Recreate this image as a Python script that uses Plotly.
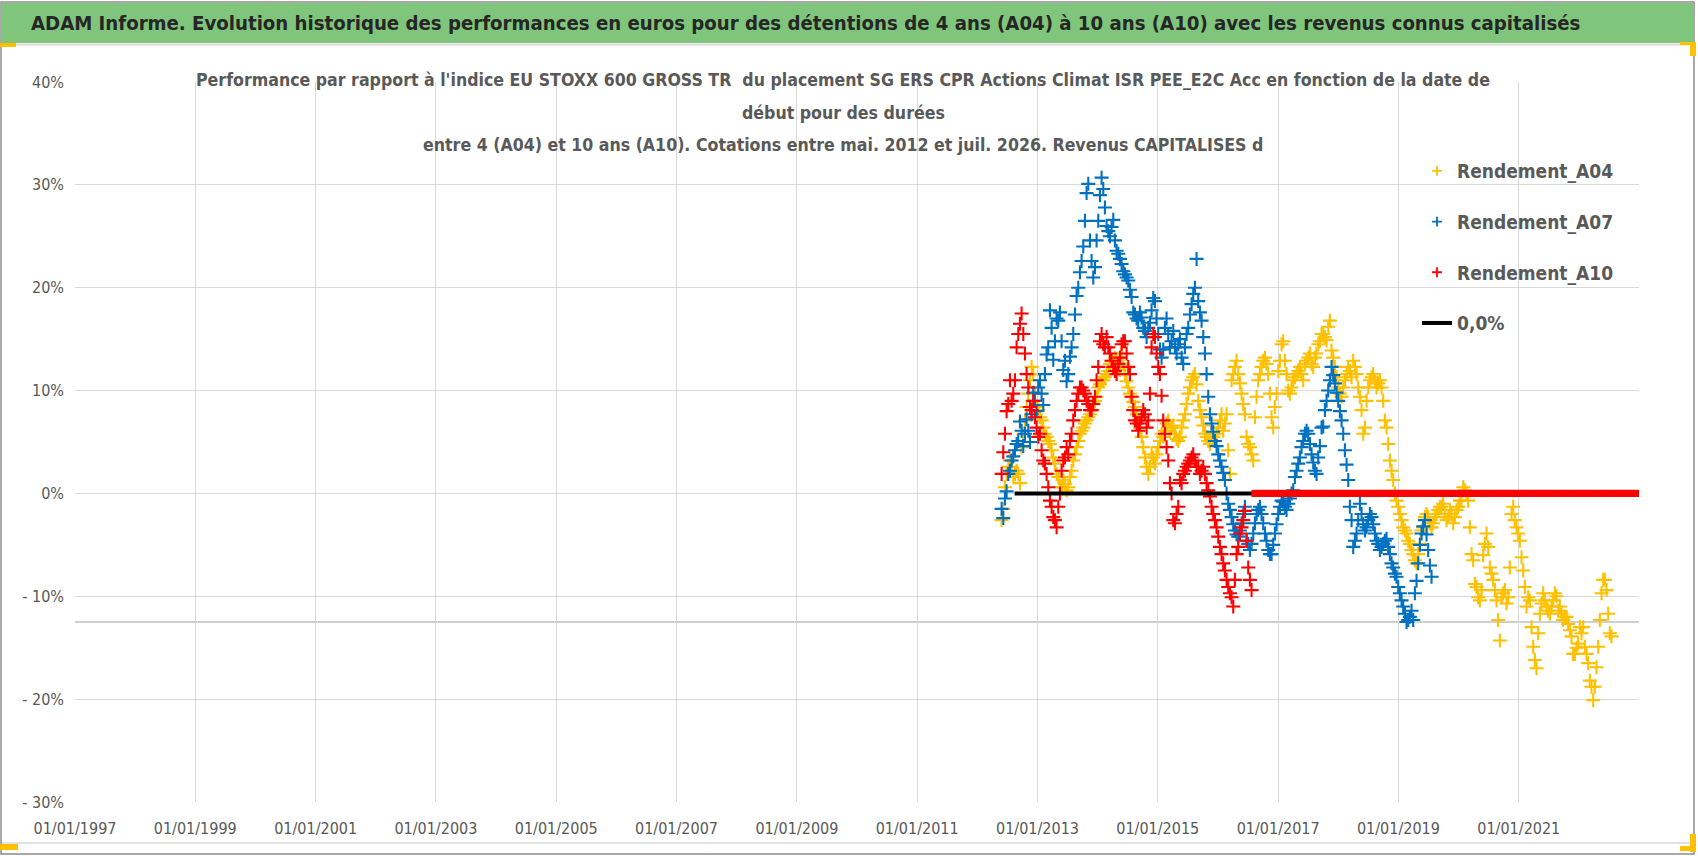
import pandas as pd
import plotly.graph_objects as go

# ---------------- data (values in %) ----------------
# readings taken on a regular grid of dates (main points) and half-way
# between consecutive grid dates (half points)
grid_start = "2012-05-28"
grid_end = "2022-12-27"
grid_len = 192

a04 = [-2.6, 0.6, 2.6, 2.6, 1.9, 1.9, 4.5, 7.1, 9.7, 12.3,
       9.7, 8.1, 7.1, 5.8, 5.1, 4.2, 2.9, 1.6, 0.6, 0.9,
       0.6, 2.2, 3.8, 5.1, 6.1, 6.8, 7.4, 8.1, 9.0, 10.3,
       11.0, 11.3, 11.9, 12.9, 13.2, 12.3, 13.6, 11.6, 10.3, 9.4,
       8.4, 7.1, 5.5, 3.5, 1.9, 3.8, 2.9, 4.5, 5.8,
       6.1, 7.1, 6.4, 5.8, 5.1, 6.4, 7.7, 9.7, 11.0, 11.6,
       9.0, 7.4, 5.8, 5.1, 5.8, 5.1, 6.4, 7.7, 6.8, 4.2,
       11.0, 12.3, 11.6, 9.7, 7.7, 4.8, 3.8, 7.4, 11.0, 12.3,
       13.2, 11.6, 7.4, 8.4, 11.9, 14.5, 12.9, 10.0, 10.3, 11.3,
       11.9, 11.6, 12.6, 13.2, 12.6, 13.2, 14.5, 15.5,
       15.2, 16.2, 13.9, 12.3, 10.3, 9.4, 11.0, 12.3, 11.3, 12.3,
       10.3, 8.1, 6.4, 10.3, 11.3, 11.0, 10.7, 10.3, 7.1, 4.8,
       2.2, 0.0, -1.3, -2.6, -3.6, -4.6, -5.5, -6.5, -5.9, -3.6,
       -2.3, -2.3, -3.3, -2.3, -1.6, -1.3, -2.0, -2.3, -2.0, -2.3,
       -1.3, -0.7, 0.3, -0.7, -5.9, -8.8, -10.1, -9.4,
       -4.9, -5.2, -7.8, -9.4, -12.3, -10.1, -9.4, -10.1, -2.0, -2.6,
       -3.9, -6.2, -9.1, -10.1, -13.0, -16.2, -13.6, -10.7, -10.4, -11.4,
       -11.0, -9.7, -11.4, -11.7, -12.0, -12.7, -13.9, -15.6, -14.6, -13.6,
       -14.9, -16.5, -18.8, -18.8, -14.9, -9.7, -8.4, -11.7, -13.9]

a04_half = [-1.5, 1.9, 3.2, 1.6, 2.2, 1.0, 5.8, 8.4, 11.0, 11.6,
            8.4, 7.4, 6.4, 5.5, 4.8, 3.5, 1.9, 0.6, 1.3, 0.3,
            1.6, 3.2, 4.5, 5.8, 6.4, 7.1, 7.7, 8.7, 9.4, 10.6,
            11.0, 11.6, 12.6, 12.6, 13.0, 12.0, 12.6, 10.9, 9.7, 8.9,
            7.7, 6.4, 4.5, 2.6, 2.6, 3.5, 3.8, 5.1,
            5.5,
            6.8, 6.1, 6.6, 5.3, 5.5, 7.1, 8.7, 10.3, 11.3, 10.6,
            8.1, 6.6, 5.5, 4.8, 5.5, 5.8, 7.1, 6.1, 7.7, 1.9,
            11.6, 12.9, 10.7, 8.7, 5.5, 4.5, 3.2, 9.4, 11.6, 12.9,
            12.6, 9.7, 6.4, 9.7, 12.9, 14.8, 11.6, 9.7, 11.0, 11.6,
            12.3, 11.0, 12.9, 13.6, 12.3, 13.6, 14.8,
            15.5,
            14.9, 16.8, 13.2, 11.3, 9.7, 10.3, 11.6, 11.9, 12.9, 11.6,
            9.4, 5.8, 9.0, 11.0, 11.6, 10.3, 11.0, 9.0, 6.4, 3.2,
            1.3, -0.7, -2.0, -3.3, -3.9, -4.9, -5.9, -6.8, -4.9, -3.3,
            -2.0, -2.9, -2.9, -2.0, -1.3, -1.0, -2.6, -1.6, -2.9, -1.6,
            -0.7, 0.6, 0.0, -3.3, -6.5, -9.1, -10.4,
            -6.0,
            -3.9, -7.2, -8.4, -10.4, -14.3, -9.7, -10.7, -7.2, -1.3, -3.3,
            -4.6, -7.5, -11.0, -10.4, -14.9, -17.0, -11.7, -9.7, -11.0, -11.7,
            -10.4, -10.0, -11.0, -12.3, -12.0, -13.3, -15.6, -15.0, -13.0, -13.0,
            -15.6, -18.2, -20.1, -16.9, -12.3, -8.4, -9.4, -13.6]

a07 = [-1.5, -0.5, 1.9, 3.2, 4.2, 5.1, 6.1, 5.8, 6.1, 7.7,
       9.0, 10.3, 9.7, 11.6, 14.2, 16.1, 14.8, 16.8, 14.8, 12.9,
       11.6, 14.2, 17.4, 20.0, 22.6, 26.5, 30.1, 22.6, 22.0, 26.5,
       30.7, 27.8, 25.5, 25.9, 24.6, 23.3, 22.3, 21.3, 20.7, 19.1,
       17.4, 16.8, 17.1, 15.8, 16.1, 17.8, 18.7, 15.5, 13.2, 16.1,
       15.5, 14.8, 14.2, 14.5, 13.2, 14.2, 16.1, 18.4, 20.0, 18.7,
       16.8, 13.6, 9.4, 6.8, 5.1, 3.8, 2.6, 1.3, -1.0, -2.3,
       -3.6, -4.2, -2.9, -1.3, -4.9, -4.9, -2.9, -1.6, -2.0, -3.9,
       -5.5, -5.9, -3.9, -2.0, -0.7, -1.3, -1.0, 0.0, 1.6, 2.9,
       4.5, 5.8, 5.8, 3.8, 2.2, 3.5, 6.4,
       8.1, 10.0, 12.3, 10.7, 9.0, 7.1, 4.2, 1.3, -2.6, -4.6,
       -2.6, -2.0, -3.6, -2.6, -2.3, -3.9, -4.9, -5.2, -4.6, -5.2,
       -6.8, -7.8, -9.1, -10.4, -11.7, -12.3, -11.4, -9.7, -6.8, -3.9,
       -2.6, -5.5, -8.1]

a07_half = [-2.4, 0.2, 2.2, 3.6, 4.8, 7.0, 4.6, 7.2, 5.0, 9.8,
            8.0, 11.0, 8.6, 13.5, 17.8, 13.0, 17.0, 17.6, 12.0, 10.9,
            13.3, 15.5, 19.2, 21.5, 24.0, 29.2, 24.6, 21.0, 24.6, 29.0,
            29.6, 26.0, 25.0, 26.6, 23.6, 22.8, 21.6, 21.0, 19.8, 17.6,
            17.0, 17.6, 16.1, 15.2, 16.6, 19.0, 17.0, 14.0,
            14.0,
            17.0, 14.2, 15.8, 13.6, 15.0, 12.6, 15.5, 17.4, 19.4, 22.8,
            17.6, 15.2, 11.6, 7.7, 6.0, 4.6, 3.2, 2.0, 0.0, -1.6,
            -3.0, -4.0, -3.6, -2.0, -4.6, -5.5, -3.9, -2.0, -1.3, -2.9,
            -4.6, -5.9, -5.0, -3.0, -1.3, -0.8, -1.6, -0.5, 0.3, 2.2,
            3.5, 5.1, 6.1, 4.8, 3.0, 1.9, 4.6,
            6.5, 9.0, 11.0, 11.5, 9.8, 8.0, 5.8, 2.8, -1.3, -5.2,
            -3.9, -1.0, -3.0, -3.3, -2.0, -3.0, -4.6, -5.5, -4.9, -4.4,
            -5.9, -7.2, -8.1, -9.7, -11.0, -12.5, -12.0, -12.3, -8.5, -5.0,
            -3.2, -4.0, -7.0]

a10 = [1.9, 5.8, 8.7, 9.0, 11.0, 15.5, 17.5, 13.6, 10.3, 8.1,
       7.4, 5.5, 4.2, 2.9, 0.6, -1.3, -2.6, -1.3, 2.2, 3.5,
       3.8, 5.8, 8.1, 9.7, 10.3, 9.7, 8.7, 8.1, 9.4, 12.3,
       15.5, 14.2, 14.2, 12.9, 11.9, 12.6, 14.5, 14.8, 12.3, 9.4,
       7.1, 6.1, 7.4, 7.7, 7.1, 14.2, 15.2, 12.3, 9.5,
       5.8, 3.2, 0.0, -2.9, -1.3, 1.0, 2.2, 2.9, 3.5, 3.2,
       2.6, 2.2, 1.9, 0.3, -1.3, -2.6, -4.2, -5.9, -7.5, -9.1,
       -10.1, -8.4, -5.2, -3.3, -1.7, -7.2, -9.4]

a10_half = [4.0, 8.0, 11.0, 9.7, 14.2, 16.5, 15.5, 11.6, 8.4, 9.0,
            6.4, 5.8, 3.2, 1.9, -0.7, -2.3, -3.3, 0.0, 3.2, 4.5,
            5.1, 7.1, 9.0, 10.3, 10.0, 9.0, 8.1, 8.7, 11.0, 14.8,
            14.5, 15.2, 13.6, 12.3, 11.6, 13.2, 14.8, 13.6, 11.6, 8.1,
            6.8, 6.8, 8.1, 6.4, 9.7, 15.5, 13.6, 11.6,
            7.1,
            4.5, 1.0, -2.6, -2.0, 1.3, 1.9, 2.6, 3.2, 3.8, 2.6,
            1.9, 2.6, 1.0, -0.3, -2.0, -3.3, -5.2, -6.8, -8.4, -9.7,
            -11.0, -5.9, -3.9, -2.6, -4.6, -8.4]

a10_tail_zero_count = 116   # A10 reported as 0 after juil. 2016
a10_tail = [0.0] * a10_tail_zero_count

zero_dates = ["2012-08-15", "2016-07-24"]
zero_vals = [0.0, 0.0]

x_tick_dates = ["1997-01-01", "1999-01-01", "2001-01-01", "2003-01-01", "2005-01-01",
                "2007-01-01", "2009-01-01", "2011-01-01", "2013-01-01", "2015-01-01",
                "2017-01-01", "2019-01-01", "2021-01-01"]
x_tick_text = ["01/01/1997", "01/01/1999", "01/01/2001", "01/01/2003", "01/01/2005",
               "01/01/2007", "01/01/2009", "01/01/2011", "01/01/2013", "01/01/2015",
               "01/01/2017", "01/01/2019", "01/01/2021"]
y_tick_vals = [40, 30, 20, 10, 0, -10, -20, -30]
y_tick_text = ["40%", "30%", "20%", "10%", "0%", "- 10%", "- 20%", "- 30%"]

header = ("ADAM Informe. Evolution historique des performances en euros pour des détentions "
          "de 4 ans (A04) à 10 ans (A10) avec les revenus connus capitalisés")
title_lines = [
    "Performance par rapport à l'indice EU STOXX 600 GROSS TR  du placement SG ERS CPR Actions Climat ISR PEE_E2C Acc en fonction de la date de",
    "début pour des durées",
    "entre 4 (A04) et 10 ans (A10). Cotations entre mai. 2012 et juil. 2026. Revenus CAPITALISES d",
]

dates = pd.date_range(grid_start, grid_end, periods=grid_len)
half_dates = dates[:-1] + (dates[1] - dates[0]) / 2

# ---------------- layout geometry ----------------
W, H = 1698, 856
L, R, T, B = 75, 59, 82, 54
PW, PH = W - L - R, H - T - B


def px(x):
    return (x - L) / PW


def py(y):
    return (H - B - y) / PH


FONT = "DejaVu Sans Condensed, DejaVu Sans, sans-serif"
GREY = "#595959"
MSIZE, MLINE = 10, 2.1
COLORS = {"Rendement_A04": "#FFC000", "Rendement_A07": "#0070C0", "Rendement_A10": "#FF0000"}

fig = go.Figure()


def add_pts(main, half, name):
    color = COLORS[name]
    x = list(dates[:len(main)]) + list(half_dates[:len(half)])
    y = list(main) + list(half)
    fig.add_trace(go.Scatter(
        x=x, y=y, mode="markers", name=name, legendgroup=name, showlegend=False,
        marker=dict(symbol="cross-thin", size=MSIZE, color=color, opacity=1,
                    line=dict(color=color, width=MLINE)),
    ))


add_pts(a04, a04_half, "Rendement_A04")
add_pts(a07, a07_half, "Rendement_A07")
add_pts(a10, a10_half, "Rendement_A10")
# the long run of zero values of A10 forms a solid red bar in the reference
fig.add_trace(go.Scatter(
    x=dates[len(a10):len(a10) + len(a10_tail)], y=a10_tail, mode="markers",
    name="Rendement_A10", legendgroup="Rendement_A10", showlegend=False,
    marker=dict(symbol="square", size=7, color="#FF0000", opacity=1, line=dict(width=0)),
))
fig.add_trace(go.Scatter(
    x=half_dates[len(a10):len(a10) + len(a10_tail)], y=a10_tail, mode="markers",
    name="Rendement_A10", legendgroup="Rendement_A10", showlegend=False,
    marker=dict(symbol="square", size=7, color="#FF0000", opacity=1, line=dict(width=0)),
))
# legend entries (small markers as in the reference legend)
for name, color in COLORS.items():
    fig.add_trace(go.Scatter(
        x=[None], y=[None], mode="markers", name=name, legendgroup=name,
        marker=dict(symbol="cross-thin", size=7, color=color, opacity=1,
                    line=dict(color=color, width=1.8)),
    ))
fig.add_trace(go.Scatter(x=pd.to_datetime(zero_dates), y=zero_vals, mode="lines",
                         name="0,0%", legendgroup="0,0%",
                         line=dict(color="black", width=4)))

shapes = []
# outer frame
shapes.append(dict(type="rect", xref="paper", yref="paper", x0=px(1), x1=px(1694),
                   y0=py(854), y1=py(2), line=dict(color="#8c8c8c", width=1.5),
                   fillcolor="rgba(0,0,0,0)", layer="above"))
# header banner
shapes.append(dict(type="rect", xref="paper", yref="paper", x0=px(2), x1=px(1694),
                   y0=py(43), y1=py(3), line=dict(width=0), fillcolor="#80C57C", layer="above"))
shapes.append(dict(type="line", xref="paper", yref="paper", x0=px(2), x1=px(1690),
                   y0=py(44.5), y1=py(44.5), line=dict(color="#d9d9d9", width=2), layer="above"))
shapes.append(dict(type="line", xref="paper", yref="paper", x0=px(2), x1=px(1690),
                   y0=py(843), y1=py(843), line=dict(color="#d9d9d9", width=1.5), layer="above"))
# yellow corner tabs
for (x0, x1, y0, y1) in [(0, 16, 43, 47), (0, 18, 844, 850), (1690, 1696, 42, 56),
                         (1690, 1696, 834, 852), (1680, 1696, 846, 851), (1680, 1696, 42, 45)]:
    shapes.append(dict(type="rect", xref="paper", yref="paper", x0=px(x0), x1=px(x1),
                       y0=py(y1), y1=py(y0), line=dict(width=0), fillcolor="#FFC000",
                       layer="above"))
# white boxes of the chart title and legend (cover gridlines)
shapes.append(dict(type="rect", xref="paper", yref="paper", x0=px(192), x1=px(1500),
                   y0=py(163), y1=py(60), line=dict(width=0), fillcolor="white", layer="between"))
shapes.append(dict(type="rect", xref="paper", yref="paper", x0=px(1384), x1=px(1639),
                   y0=py(348), y1=py(148), line=dict(width=0), fillcolor="white", layer="between"))
# darker horizontal reference line
shapes.append(dict(type="line", xref="paper", yref="y", x0=0, x1=1, y0=-12.5, y1=-12.5,
                   line=dict(color="#bfbfbf", width=1.5), layer="between"))

annotations = [dict(text="<b>%s</b>" % header, xref="paper", yref="paper",
                    x=px(805), y=py(23), xanchor="center", yanchor="middle",
                    showarrow=False, font=dict(family=FONT, size=20.2, color="#262626"))]
for txt, yy in zip(title_lines, [80, 113, 145]):
    annotations.append(dict(text="<b>%s</b>" % txt, xref="paper", yref="paper",
                            x=px(843), y=py(yy), xanchor="center", yanchor="middle",
                            showarrow=False, font=dict(family=FONT, size=17.6, color=GREY)))

fig.update_layout(
    width=W, height=H, autosize=False,
    margin=dict(l=L, r=R, t=T, b=B),
    paper_bgcolor="white", plot_bgcolor="white",
    showlegend=True,
    legend=dict(x=px(1417), y=py(152), xanchor="left", yanchor="top",
                bgcolor="rgba(0,0,0,0)",
                font=dict(family=FONT, size=19, color=GREY, weight="bold"),
                tracegroupgap=23, itemsizing="trace",
                traceorder="grouped"),
    xaxis=dict(type="date", range=["1997-01-01", "2023-01-01"],
               tickvals=pd.to_datetime(x_tick_dates), ticktext=x_tick_text,
               showgrid=True, gridcolor="#d9d9d9", gridwidth=1, zeroline=False,
               showline=False, ticks="", ticklabelstandoff=15,
               tickfont=dict(family=FONT, size=16, color=GREY)),
    yaxis=dict(range=[-30, 40], tickvals=y_tick_vals, ticktext=y_tick_text,
               showgrid=True, gridcolor="#d9d9d9", gridwidth=1, zeroline=False,
               showline=False, ticks="", ticklabelstandoff=10,
               tickfont=dict(family=FONT, size=16, color=GREY)),
    shapes=shapes, annotations=annotations,
)

fig.write_html("out.html", config={"displayModeBar": False},
               post_script="document.body.style.margin='0px';document.body.style.padding='0px';")
